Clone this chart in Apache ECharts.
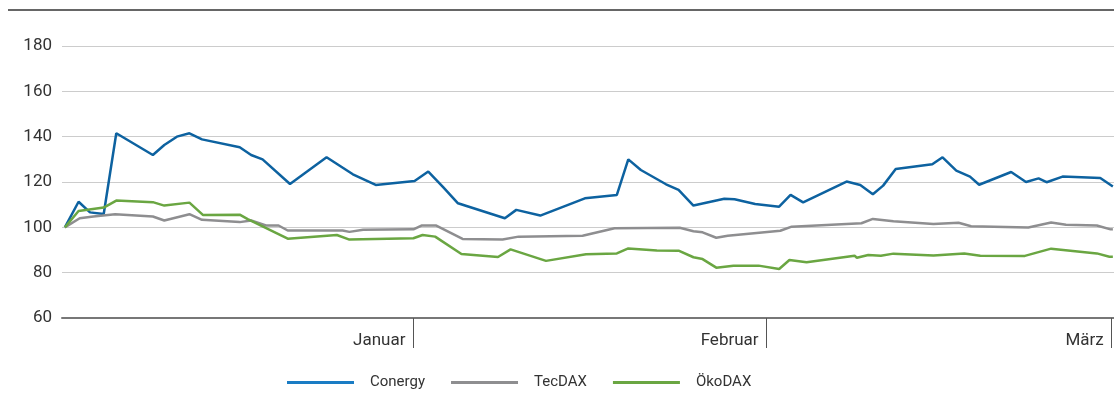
<!DOCTYPE html>
<html>
<head>
<meta charset="utf-8">
<script src="https://cdn.jsdelivr.net/npm/echarts@6/dist/echarts.min.js"></script>
<style>
  html, body { margin: 0; padding: 0; background: #fff; }
  #chart { width: 1114px; height: 403px; }
</style>
</head>
<body>
<div id="chart"></div>
<script>
// x = Tage seit Start (Index 100), y = Indexwert
const conergy = [
  [0, 100], [1.2, 111.3], [2.2, 106.6], [3.4, 105.9], [4.5, 141.5], [7.7, 131.9],
  [8.7, 136.3], [9.8, 140], [10.9, 141.5], [12.0, 138.8], [15.3, 135.3], [16.3, 131.9],
  [17.3, 130], [19.7, 119.1], [22.9, 130.9], [25.2, 123.4], [27.2, 118.7], [30.6, 120.4],
  [31.8, 124.6], [33.1, 117.7], [34.4, 110.6], [38.5, 104], [39.5, 107.7], [41.6, 105.2],
  [45.5, 112.8], [48.3, 114.3], [49.3, 130], [50.4, 125.3], [52.6, 119], [53.7, 116.5],
  [55.0, 109.6], [57.7, 112.6], [58.6, 112.4], [60.4, 110.3], [62.5, 109.1], [63.5, 114.3],
  [64.6, 111], [68.4, 120.2], [69.6, 118.7], [70.7, 114.6], [71.6, 118.4], [72.7, 125.7],
  [75.9, 127.8], [76.8, 130.9], [78.0, 125], [79.2, 122.4], [80.0, 118.8], [82.8, 124.4],
  [84.1, 120], [85.2, 121.6], [85.9, 119.9], [87.3, 122.4], [90.6, 121.8], [91.7, 118]
];
const tecdax = [
  [0, 100], [1.3, 104], [2.5, 104.8], [4.4, 105.8], [7.7, 104.8], [8.7, 103],
  [10.9, 105.8], [12.0, 103.3], [15.3, 102.3], [16.3, 103], [17.6, 100.8], [18.7, 100.8],
  [19.5, 98.6], [24.3, 98.6], [24.9, 98], [26.1, 98.9], [30.5, 99.1], [31.2, 100.8],
  [32.5, 100.8], [34.8, 94.9], [38.3, 94.6], [39.7, 95.9], [45.3, 96.3], [48.1, 99.6],
  [53.8, 99.8], [55.0, 98.3], [55.8, 97.8], [57.0, 95.4], [58.0, 96.3], [62.6, 98.5],
  [63.6, 100.3], [69.7, 101.8], [70.7, 103.7], [72.5, 102.7], [76.0, 101.5], [78.2, 102],
  [79.3, 100.5], [84.3, 99.9], [86.3, 102.1], [87.6, 101.1], [90.3, 100.8], [91.5, 99.1],
  [91.7, 99.2]
];
const oekodax = [
  [0, 100], [1.2, 107.2], [3.4, 108.7], [4.5, 111.8], [7.7, 111.1], [8.7, 109.6],
  [10.9, 110.9], [12.1, 105.4], [15.3, 105.6], [16.0, 103.6], [19.5, 95], [23.8, 96.6],
  [24.9, 94.6], [30.5, 95.2], [31.3, 96.6], [32.4, 95.9], [34.7, 88.2], [37.9, 86.9],
  [39.0, 90.3], [42.1, 85.2], [45.6, 88.1], [48.3, 88.5], [49.3, 90.7], [51.8, 89.8],
  [53.7, 89.7], [55.0, 86.8], [55.8, 86], [57.0, 82.2], [58.5, 83.1], [60.7, 83.1],
  [62.5, 81.6], [63.4, 85.6], [64.9, 84.6], [69.1, 87.5], [69.3, 86.6], [70.3, 87.8],
  [71.4, 87.5], [72.5, 88.4], [76.0, 87.6], [78.7, 88.5], [80.1, 87.5], [84.0, 87.4],
  [86.3, 90.6], [90.3, 88.5], [91.4, 87], [91.7, 87]
];
const monthTicks = [30.5, 61.4, 91.6];
const monthNames = ['Januar', 'Februar', 'März'];

const font = "'Liberation Sans Narrow', 'Arial Narrow', 'Roboto', sans-serif";
const chart = echarts.init(document.getElementById('chart'), null, {renderer: 'canvas'});

const makeSeries = (name, data, lineColor, legendColor) => ({
  name: name,
  type: 'line',
  data: data,
  showSymbol: false,
  lineStyle: {color: lineColor, width: 2.5},
  itemStyle: {color: legendColor},
  emphasis: {disabled: true}
});

chart.setOption({
  animation: false,
  graphic: [
    {type: 'rect', left: 8, top: 9, shape: {width: 1106, height: 2}, style: {fill: '#666'}}
  ],
  grid: {left: 62, right: 0, top: 46, height: 272},
  legend: {
    left: 287,
    top: 375,
    padding: 0,
    icon: 'rect',
    itemWidth: 67,
    itemHeight: 3,
    itemGap: 26,
    textStyle: {fontFamily: font, fontSize: 15, color: '#333', padding: [0, 0, 0, 11]},
    data: ['Conergy', 'TecDAX', 'ÖkoDAX']
  },
  xAxis: {
    type: 'value',
    min: -0.25,
    max: 91.8,
    splitLine: {show: false},
    axisLine: {lineStyle: {color: '#777', width: 2}},
    axisTick: {
      customValues: monthTicks,
      length: 30,
      lineStyle: {color: '#555', width: 1}
    },
    axisLabel: {
      customValues: monthTicks,
      formatter: (v) => monthNames[monthTicks.indexOf(v)] || '',
      align: 'right',
      padding: [0, 8, 0, 0],
      margin: 14,
      fontFamily: font,
      fontSize: 17,
      color: '#333'
    }
  },
  yAxis: {
    type: 'value',
    min: 60,
    max: 180,
    interval: 20,
    axisLine: {show: false},
    axisTick: {show: false},
    splitLine: {lineStyle: {color: '#ccc', width: 1}},
    axisLabel: {margin: 10, fontFamily: font, fontSize: 17, color: '#333'}
  },
  series: [
    makeSeries('Conergy', conergy, '#0d62a0', '#1a7cc4'),
    makeSeries('TecDAX', tecdax, '#8e8e90', '#8e8e90'),
    makeSeries('ÖkoDAX', oekodax, '#6aa642', '#6aa642')
  ]
});
</script>
</body>
</html>
